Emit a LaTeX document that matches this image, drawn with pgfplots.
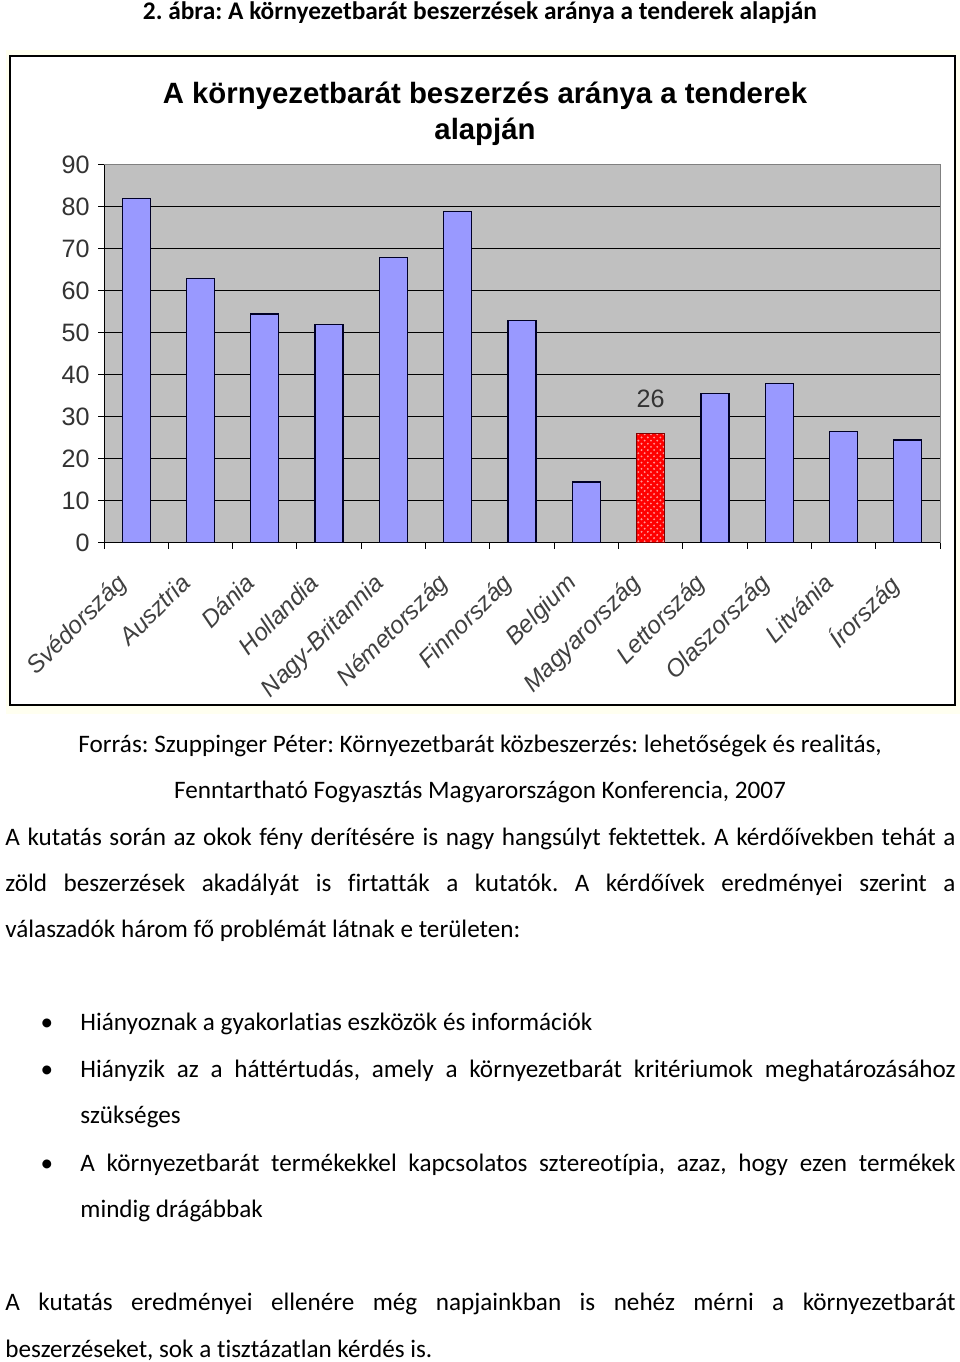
\documentclass[border=0pt]{standalone}
\usepackage{fontspec}
\setmainfont{Carlito}[Ligatures=NoCommon]
\newfontfamily\arial{Liberation Sans}
\usepackage{pgfplots}
\pgfplotsset{compat=1.18}
\usepackage{pgfplotstable}
\usetikzlibrary{patterns}
\newlength\pxu \setlength\pxu{0.477pt}
\definecolor{barblue}{HTML}{9999FF}
\definecolor{plotgray}{HTML}{C0C0C0}
\definecolor{cream}{HTML}{FFFFF0}

\pgfplotstableread{
x y
0 82
1 63
2 54.5
3 52
4 68
5 79
6 53
7 14.5
9 35.5
10 38
11 26.5
12 24.5
}\bluedata
\pgfplotstableread{
x y
8 26
}\hundata

\newcommand\jl[4]{\node[anchor=base west, inner sep=0pt] at (#1,{1362-#2}) {\makebox[#3\pxu][s]{#4}};}
\newcommand\tl[3]{\node[anchor=base west, inner sep=0pt] at (#1,{1362-#2}) {#3};}
\frenchspacing
\begin{document}
\begin{tikzpicture}[x=\pxu,y=\pxu]
\path[use as bounding box] (0,0) rectangle (960,1362);
\node[anchor=base, inner sep=0pt, font=\bfseries\fontsize{12.1}{14}\selectfont] at (480,{1362-20}) {2. ábra: A környezetbarát beszerzések aránya a tenderek alapján};
\fill[cream] (6,{1362-50}) rectangle (960,{1362-714});
\draw[fill=white, line width=1.5\pxu] (10,{1362-56}) rectangle (955,{1362-705});
\node[anchor=base, inner sep=0pt, font=\arial\bfseries\fontsize{14}{16}\selectfont] at (485,{1362-104}) {A környezetbarát beszerzés aránya a tenderek};
\node[anchor=base, inner sep=0pt, font=\arial\bfseries\fontsize{14}{16}\selectfont] at (485,{1362-140}) {alapján};
\coordinate (axpos) at (104,{1362-543});

\begin{axis}[at={(axpos)}, anchor=south west, scale only axis,
  width=836\pxu, height=378\pxu,
  xmin=-0.5, xmax=12.5, ymin=0, ymax=90,
  /pgf/number format/assume math mode=true,
  ytick={0,10,...,80}, extra y ticks={90}, extra y tick style={grid=none},
  xtick={0,...,12},
  xticklabels={Svédország,Ausztria,Dánia,Hollandia,Nagy-Britannia,Németország,Finnország,Belgium,Magyarország,Lettország,Olaszország,Litvánia,Írország},
  minor xtick={-0.5,0.5,...,12.5},
  ymajorgrids, major grid style={black, line width=1\pxu},
  axis background/.style={fill=plotgray},
  axis lines*=left,
  axis line style={black, line width=1\pxu},
  tick align=outside,
  major tick length=6\pxu, minor tick length=6\pxu,
  major x tick style={draw=none},
  minor x tick style={black, line width=1\pxu},
  ytick style={black, line width=1\pxu},
  yticklabel style={font=\arial\fontsize{12}{13}\selectfont, text=black!80, xshift=-1\pxu},
  xticklabel style={font=\arial\itshape\fontsize{11.6}{13}\selectfont, rotate=45, anchor=north east, text=black!75, xshift=-24\pxu, yshift=6\pxu},
  ybar, bar width=28\pxu,
  extra description/.code={\draw[gray, line width=1\pxu] (rel axis cs:0,1) -- (rel axis cs:1,1) -- (rel axis cs:1,0);},
]
\addplot[bar shift=0pt, fill=barblue, draw=black!85!blue, line width=1.2\pxu] table[x=x,y=y] {\bluedata};
\addplot[bar shift=0pt, fill=red, draw=red!50!black, line width=1.2\pxu,
  postaction={pattern=crosshatch dots, pattern color=white!60!red},
  nodes near coords, nodes near coords style={font=\arial\fontsize{12}{13}\selectfont, text=black!80, yshift=18\pxu}] table[x=x,y=y] {\hundata};
\end{axis}

\node[anchor=base, inner sep=0pt, font=\fontsize{12}{14}\selectfont] at (480,{1362-753}) {Forrás: Szuppinger Péter: Környezetbarát közbeszerzés: lehetőségek és realitás,};
\node[anchor=base, inner sep=0pt, font=\fontsize{12}{14}\selectfont] at (480,{1362-799}) {Fenntartható Fogyasztás Magyarországon Konferencia, 2007};
\begin{scope}[font=\fontsize{12}{14}\selectfont]
\jl{5}{846}{950}{A kutatás során az okok fény derítésére is nagy hangsúlyt fektettek. A kérdőívekben tehát a}
\jl{5}{892}{950}{zöld beszerzések akadályát is firtatták a kutatók. A kérdőívek eredményei szerint a}
\tl{5}{938}{válaszadók három fő problémát látnak e területen:}
\node[anchor=base, inner sep=0pt] at (47,{1362-1031}) {•};
\tl{80}{1031}{Hiányoznak a gyakorlatias eszközök és információk}
\node[anchor=base, inner sep=0pt] at (47,{1362-1078}) {•};
\jl{80}{1078}{875}{Hiányzik az a háttértudás, amely a környezetbarát kritériumok meghatározásához}
\tl{80}{1124}{szükséges}
\node[anchor=base, inner sep=0pt] at (47,{1362-1172}) {•};
\jl{80}{1172}{875}{A környezetbarát termékekkel kapcsolatos sztereotípia, azaz, hogy ezen termékek}
\tl{80}{1218}{mindig drágábbak}
\jl{5}{1311}{950}{A kutatás eredményei ellenére még napjainkban is nehéz mérni a környezetbarát}
\tl{5}{1357}{beszerzéseket, sok a tisztázatlan kérdés is.}
\end{scope}
\end{tikzpicture}
\end{document}
